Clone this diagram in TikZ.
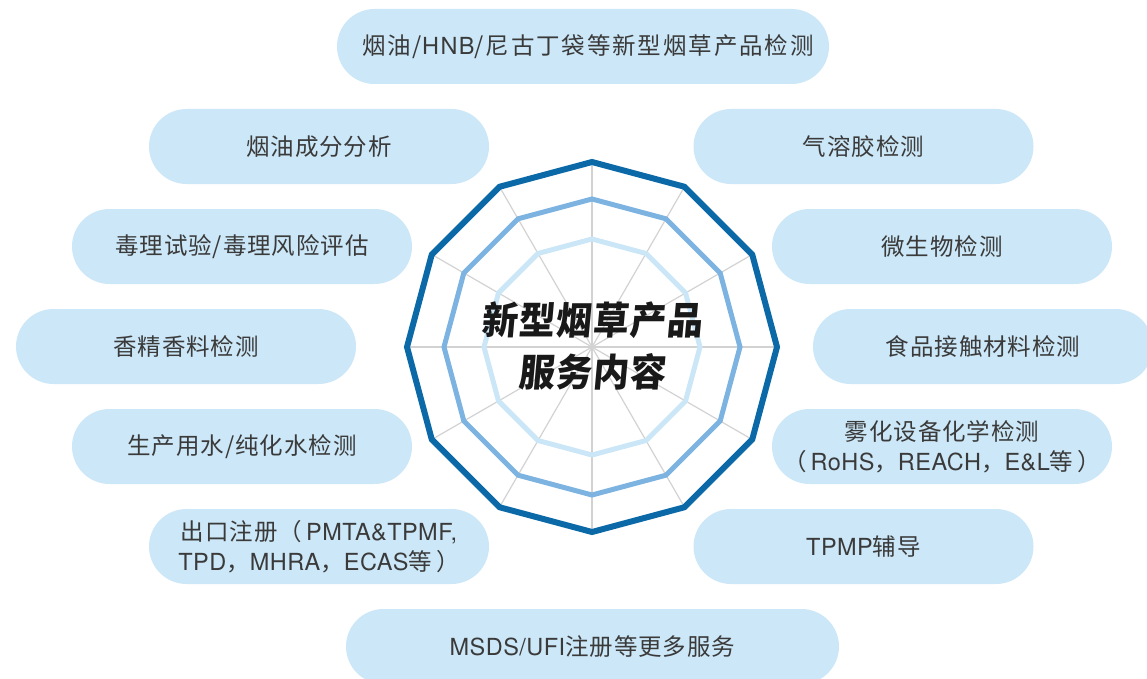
\documentclass[tikz,border=0pt]{standalone}
\usepackage{fontspec}
\setmainfont[LetterSpace=4]{Noto Sans CJK SC}
\newfontfamily\latfont[LetterSpace=2]{TeX Gyre Heros}
\newfontfamily\topfont[LetterSpace=8]{Noto Sans CJK SC}
\newfontfamily\toplat[LetterSpace=6]{TeX Gyre Heros}
\newfontfamily\titlefont[FakeStretch=0.95,FakeSlant=0.09,LetterSpace=2]{Noto Sans CJK SC}
\newcommand{\latn}[1]{{\latfont #1}}
\newcommand{\toplatn}[1]{{\toplat #1}}
\newcommand{\pgap}{\hspace{4pt}}
\definecolor{pillfill}{HTML}{CCE7F7}
\definecolor{pilltext}{HTML}{3A3A3A}
\definecolor{ringouter}{HTML}{0B69A7}
\definecolor{ringmid}{HTML}{7DB3E0}
\definecolor{ringin}{HTML}{CBE6F7}
\definecolor{spokecol}{HTML}{D2D2D2}
\tikzset{
  pill/.style={rectangle, rounded corners=37.5pt, fill=pillfill, draw=none,
    minimum height=75pt, minimum width=340pt, inner sep=0pt, align=center,
    text=pilltext, font=\fontsize{23.5}{30}\selectfont},
  pilltxt/.style={inner sep=0pt, align=center, text=pilltext, font=\fontsize{23.5}{30}\selectfont},
  spoke/.style={draw=spokecol, line width=1.2pt},
  ringA/.style={draw=ringouter, line width=6pt, line join=miter},
  ringB/.style={draw=ringmid, line width=5pt, line join=miter},
  ringC/.style={draw=ringin, line width=5pt, line join=miter},
  title/.style={text=black!90, align=center, font=\titlefont\bfseries\fontsize{38}{52}\selectfont}
}
\begin{document}
\begin{tikzpicture}[x=1pt,y=-1pt]
\useasboundingbox (0,0) rectangle (1147,679);
\clip (0,0) rectangle (1147,679);
% pills
\node[pill, minimum width=492pt] (top) at (583,46.5) {};
\node[pilltxt, font=\topfont\fontsize{23.5}{30}\selectfont] (toptext) at (588,46.5) {烟油/\toplatn{HNB}/尼古丁袋等新型烟草产品检测};
\node[pill] (l1) at (319,146.5) {烟油成分分析};
\node[pill] (l2) at (242,246.5) {毒理试验/毒理风险评估};
\node[pill] (l3) at (186,346.5) {香精香料检测};
\node[pill] (l4) at (242,446.5) {生产用水/纯化水检测};
\node[pill] (l5) at (319,546.5) {出口注册（\pgap\latn{PMTA\&TPMF,}\\\latn{TPD}，\latn{MHRA}，\latn{ECAS}等\pgap）};
\node[pill] (r1) at (863.5,146.5) {气溶胶检测};
\node[pill] (r2) at (942,246.5) {微生物检测};
\node[pill] (r3) at (983,346.5) {食品接触材料检测};
\node[pill] (r4) at (942,446.5) {雾化设备化学检测\\（\pgap\latn{RoHS}，\latn{REACH}，\latn{E\&L}等\pgap）};
\node[pill] (r5) at (863.5,546.5) {\latn{TPMP}辅导};
\node[pill, minimum width=493pt] (bot) at (592.5,646.5) {\latn{MSDS/UFI}注册等更多服务};
% radar
\coordinate (o) at (592,347);
\begin{scope}[shift={(o)}]
  \foreach \a in {0,30,...,330} \draw[spoke] (0,0) -- (\a:185);
  \draw[ringC] (90:108) \foreach \a in {120,150,...,420} { -- (\a:108)} -- cycle;
  \draw[ringB] (90:148) \foreach \a in {120,150,...,420} { -- (\a:148)} -- cycle;
  \draw[ringA] (90:185) \foreach \a in {120,150,...,420} { -- (\a:185)} -- cycle;
\end{scope}
\node[title] (t) at (592,346) {新型烟草产品\\服务内容};
\end{tikzpicture}
\end{document}
